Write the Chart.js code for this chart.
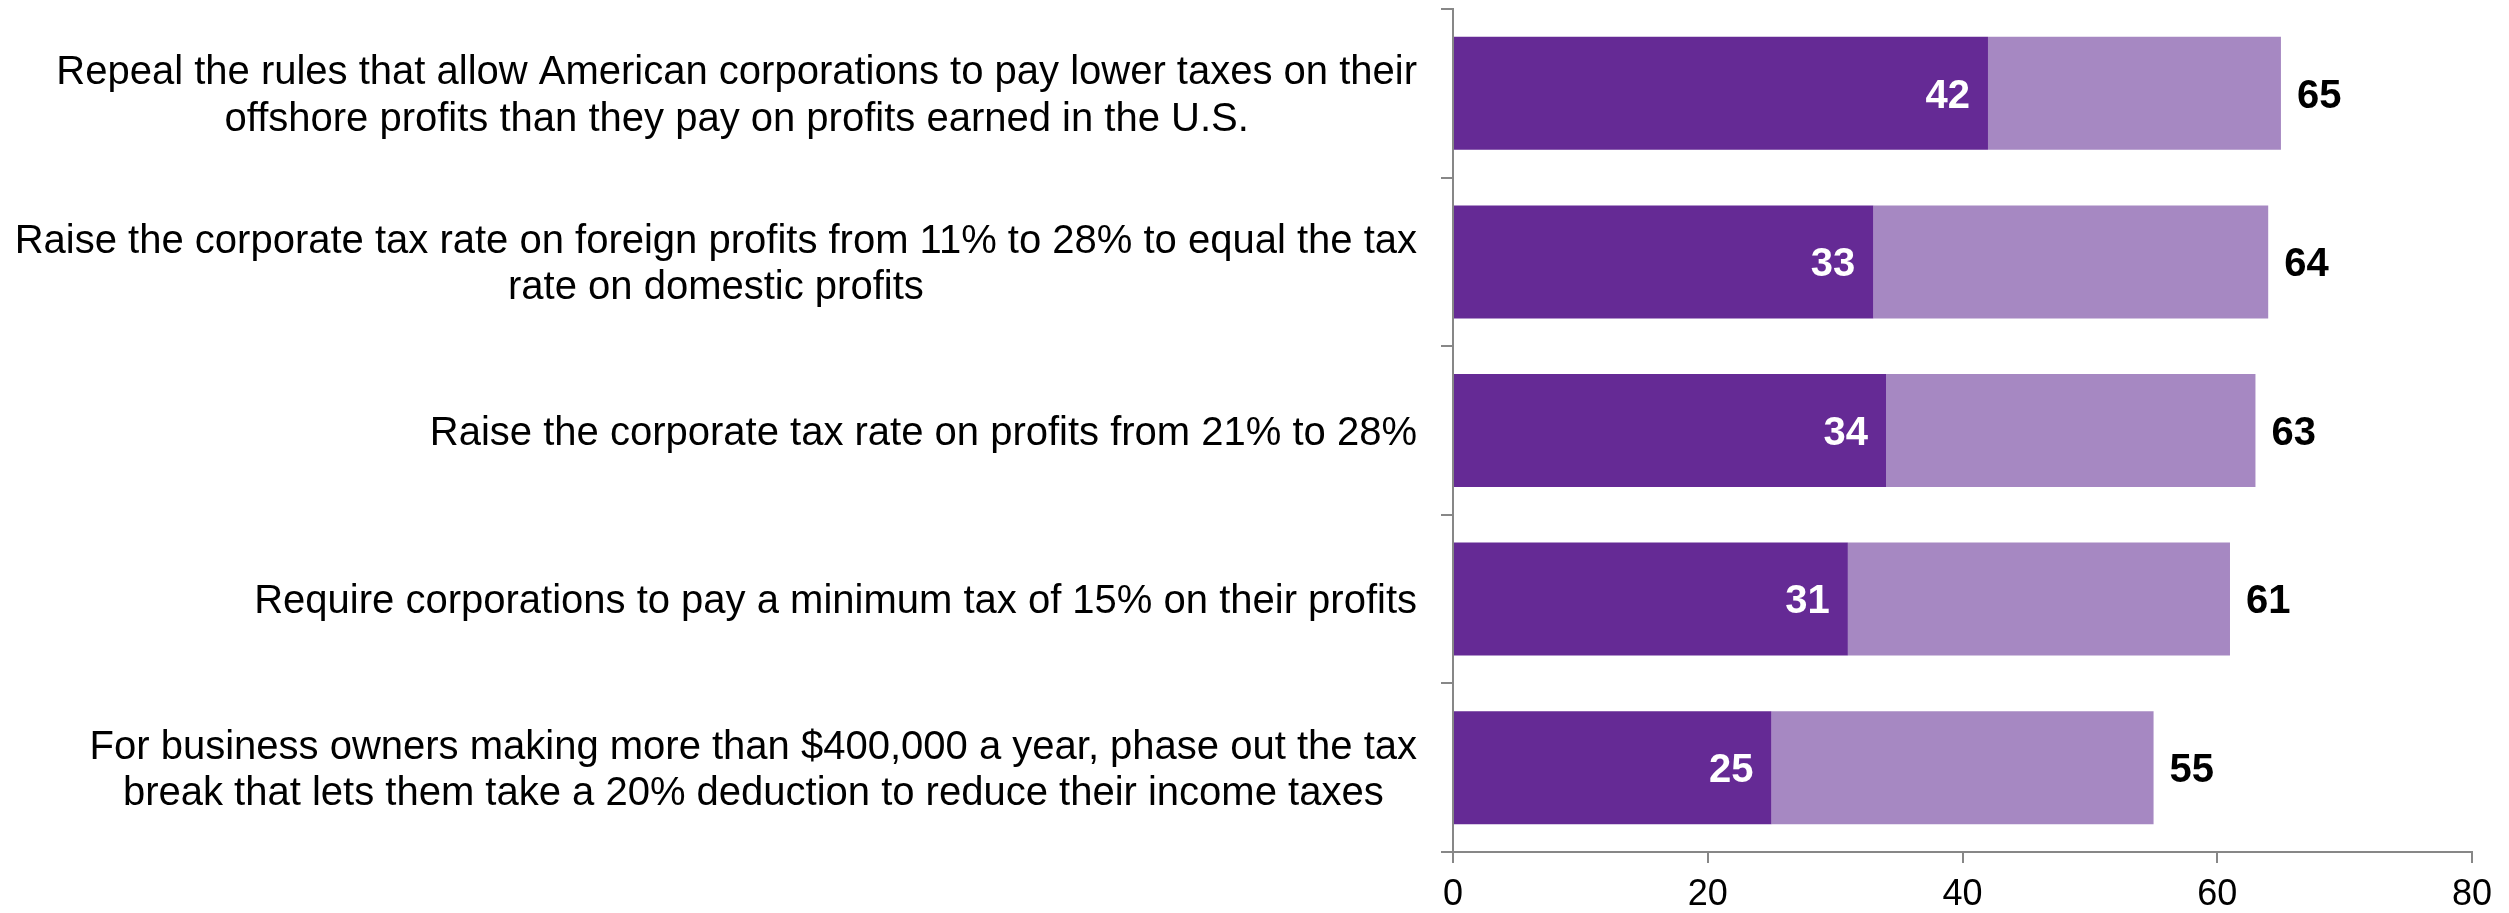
<!DOCTYPE html>
<html>
<head>
<meta charset="utf-8">
<script src="https://cdn.jsdelivr.net/npm/chart.js@4/dist/chart.umd.min.js"></script>
<style>
  html, body { margin: 0; padding: 0; background: #ffffff; }
  #wrap { width: 2509px; height: 913px; }
</style>
</head>
<body>
<div id="wrap"><canvas id="chart" width="2509" height="913"></canvas></div>
<script>
// Policy proposals, one array entry per line of the wrapped label
const categories = [
  ['Repeal the rules that allow American corporations to pay lower taxes on their',
   'offshore profits than they pay on profits earned in the U.S.'],
  ['Raise the corporate tax rate on foreign profits from 11% to 28% to equal the tax',
   'rate on domestic profits'],
  ['Raise the corporate tax rate on profits from 21% to 28%'],
  ['Require corporations to pay a minimum tax of 15% on their profits'],
  ['For business owners making more than $400,000 a year, phase out the tax',
   'break that lets them take a 20% deduction to reduce their income taxes']
];

// Share who strongly support each proposal
const stronglySupport = [42, 33, 34, 31, 25];
// Total share who support (strongly + somewhat)
const totalSupport = [65, 64, 63, 61, 55];
// Somewhat support is the remainder of the total
const somewhatSupport = totalSupport.map((t, i) => t - stronglySupport[i]);

const xTicks = [0, 20, 40, 60, 80];

const FONT = '"Liberation Sans", Arial, Helvetica, sans-serif';
const AXIS_GRAY = '#878787';
const DARK = '#652A95';
const LIGHT = '#A688C2';

// Wrapped category labels: each block right-aligned next to the axis, lines centred within the block
const categoryLabels = {
  id: 'categoryLabels',
  afterDraw(chart) {
    const { ctx, chartArea, scales: { y } } = chart;
    const size = 40, lineH = 46.5, capHalf = size * 0.716 / 2;
    const right = chartArea.left - 36;
    ctx.save();
    ctx.font = size + 'px ' + FONT;
    ctx.fillStyle = '#000000';
    ctx.textAlign = 'center';
    ctx.textBaseline = 'alphabetic';
    categories.forEach((lines, i) => {
      const cy = y.getPixelForValue(i);
      const widest = Math.max(...lines.map(l => ctx.measureText(l).width));
      const cx = right - widest / 2;
      lines.forEach((line, j) => {
        const ly = cy + (j - (lines.length - 1) / 2) * lineH;
        ctx.fillText(line, cx, ly + capHalf);
      });
    });
    ctx.restore();
  }
};

// Value labels: strongly-support inside the dark bar end, total just past the stacked bar
const valueLabels = {
  id: 'valueLabels',
  afterDatasetsDraw(chart) {
    const { ctx } = chart;
    const size = 40, capHalf = size * 0.716 / 2;
    ctx.save();
    ctx.font = 'bold ' + size + 'px ' + FONT;
    ctx.textBaseline = 'alphabetic';
    chart.getDatasetMeta(0).data.forEach((bar, i) => {
      ctx.fillStyle = '#ffffff';
      ctx.textAlign = 'right';
      ctx.fillText(String(stronglySupport[i]), bar.x - 18, bar.y + capHalf);
    });
    chart.getDatasetMeta(1).data.forEach((bar, i) => {
      ctx.fillStyle = '#000000';
      ctx.textAlign = 'left';
      ctx.fillText(String(totalSupport[i]), bar.x + 16, bar.y + capHalf);
    });
    ctx.restore();
  }
};

new Chart(document.getElementById('chart'), {
  type: 'bar',
  data: {
    labels: categories.map(l => l.join(' ')),
    datasets: [
      {
        label: 'Strongly support',
        data: stronglySupport,
        backgroundColor: DARK,
        borderWidth: 0,
        barPercentage: 0.67,
        categoryPercentage: 1
      },
      {
        label: 'Somewhat support',
        data: somewhatSupport,
        backgroundColor: LIGHT,
        borderWidth: 0,
        barPercentage: 0.67,
        categoryPercentage: 1
      }
    ]
  },
  options: {
    indexAxis: 'y',
    responsive: false,
    maintainAspectRatio: false,
    animation: false,
    layout: { padding: { top: 9, right: 37, bottom: 0, left: 0 } },
    plugins: {
      legend: { display: false },
      tooltip: { enabled: false }
    },
    scales: {
      x: {
        stacked: true,
        min: 0,
        max: 80,
        afterBuildTicks(scale) {
          scale.ticks = xTicks.map(v => ({ value: v }));
        },
        ticks: {
          color: '#000000',
          font: { family: FONT, size: 36 },
          padding: 10,
          maxRotation: 0
        },
        grid: {
          drawOnChartArea: false,
          drawTicks: true,
          tickLength: 11,
          color: AXIS_GRAY,
          lineWidth: 2
        },
        border: { display: true, color: AXIS_GRAY, width: 2 },
        afterFit(scale) { scale.height = 61; }
      },
      y: {
        stacked: true,
        ticks: { display: false },
        grid: {
          drawOnChartArea: false,
          drawTicks: true,
          tickLength: 12,
          offset: true,
          color: AXIS_GRAY,
          lineWidth: 2
        },
        border: { display: true, color: AXIS_GRAY, width: 2 },
        afterFit(scale) { scale.width = 1453; }
      }
    }
  },
  plugins: [categoryLabels, valueLabels]
});
</script>
</body>
</html>
